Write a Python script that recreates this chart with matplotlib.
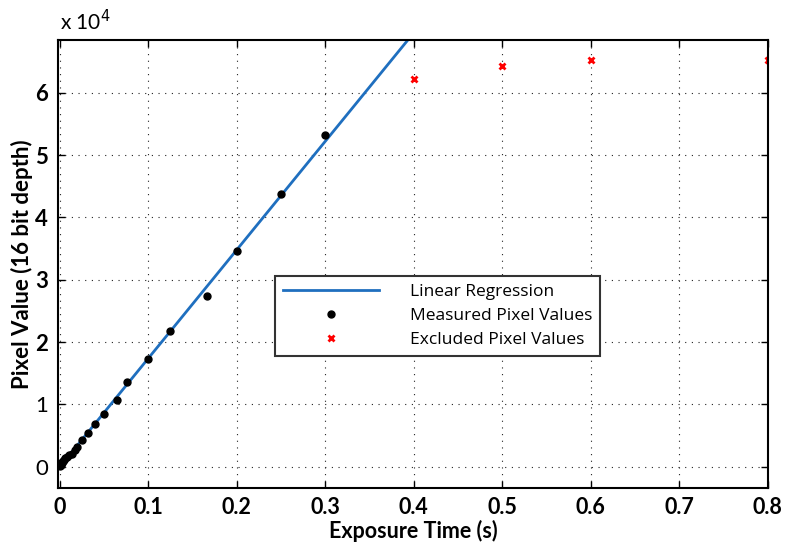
import numpy as np
import matplotlib.pyplot as plt
from matplotlib.ticker import FuncFormatter

# measured exposure series (s, counts)
t_meas = [0.0005, 0.001, 0.002, 0.003, 0.004, 0.005, 0.006, 0.008, 0.01, 0.0135, 0.017,
          0.02, 0.025, 0.032, 0.04, 0.05, 0.065, 0.076, 0.1, 0.125, 0.1665, 0.2, 0.25, 0.3]
px_meas = [150, 300, 500, 700, 900, 1100, 1300, 1600, 1900, 2000, 2700,
           3100, 4300, 5400, 6800, 8500, 10700, 13600, 17300, 21800, 27400, 34600, 43700, 53200]

# saturated points left out of the fit
t_excl = [0.4, 0.5, 0.6, 0.8]
px_excl = [62200, 64300, 65300, 65300]

xticks = [0, 0.1, 0.2, 0.3, 0.4, 0.5, 0.6, 0.7, 0.8]
yticks = [0, 10000, 20000, 30000, 40000, 50000, 60000]

fit = np.polyfit(t_meas, px_meas, 1)
t_fit = np.linspace(0, 0.8, 200)

fig = plt.figure(figsize=(7.85, 5.45), dpi=100)
ax = fig.add_axes([0.0739, 0.1051, 0.9043, 0.8215])

ax.plot(t_fit, np.polyval(fit, t_fit), color='#1f6fbf', lw=2, label='Linear Regression')
ax.plot(t_meas, px_meas, 'o', color='black', ms=5, label='Measured Pixel Values')
ax.plot(t_excl, px_excl, 'x', color='red', ms=5, mew=2, label='Excluded Pixel Values')

ax.set_xlim(-0.002, 0.8)
ax.set_ylim(-3400, 68500)
ax.set_xticks(xticks)
ax.set_yticks(yticks)
ax.xaxis.set_major_formatter(FuncFormatter(lambda v, p: '0' if v == 0 else f'{v:g}'))
ax.yaxis.set_major_formatter(FuncFormatter(lambda v, p: f'{v / 1e4:g}'))

ax.tick_params(direction='in', top=True, right=True, length=5, width=1, labelsize=15.5, pad=7)
for lbl in ax.get_xticklabels():
    lbl.set_fontweight('bold')
    lbl.set_family('Lato')
for lbl, v in zip(ax.get_yticklabels(), yticks):
    lbl.set_family('Lato')
    lbl.set_fontsize(16)
    lbl.set_fontweight('bold' if v >= 20000 else 'normal')

ax.grid(True, color='#222222', linestyle=(0, (1, 5)), linewidth=0.8)
for s in ax.spines.values():
    s.set_linewidth(1.5)

ax.set_xlabel('Exposure Time (s)', fontsize=15.5, fontweight='bold', family='Lato', labelpad=1)
ax.set_ylabel('Pixel Value (16 bit depth)', fontsize=16, fontweight='bold', family='Lato', labelpad=2)
fig.text(0.077, 0.945, r'x 10$^4$', fontsize=15, family='Lato')

leg = ax.legend(loc='upper left', bbox_to_anchor=(0.306, 0.472),
                prop={'family': 'Open Sans', 'size': 12.5}, fancybox=False,
                edgecolor='#333333', framealpha=1, handlelength=5.5,
                labelspacing=0.45, borderpad=0.45, handletextpad=1.8, borderaxespad=0)
leg.get_frame().set_linewidth(1.5)

fig.savefig('out.png', dpi=100)
